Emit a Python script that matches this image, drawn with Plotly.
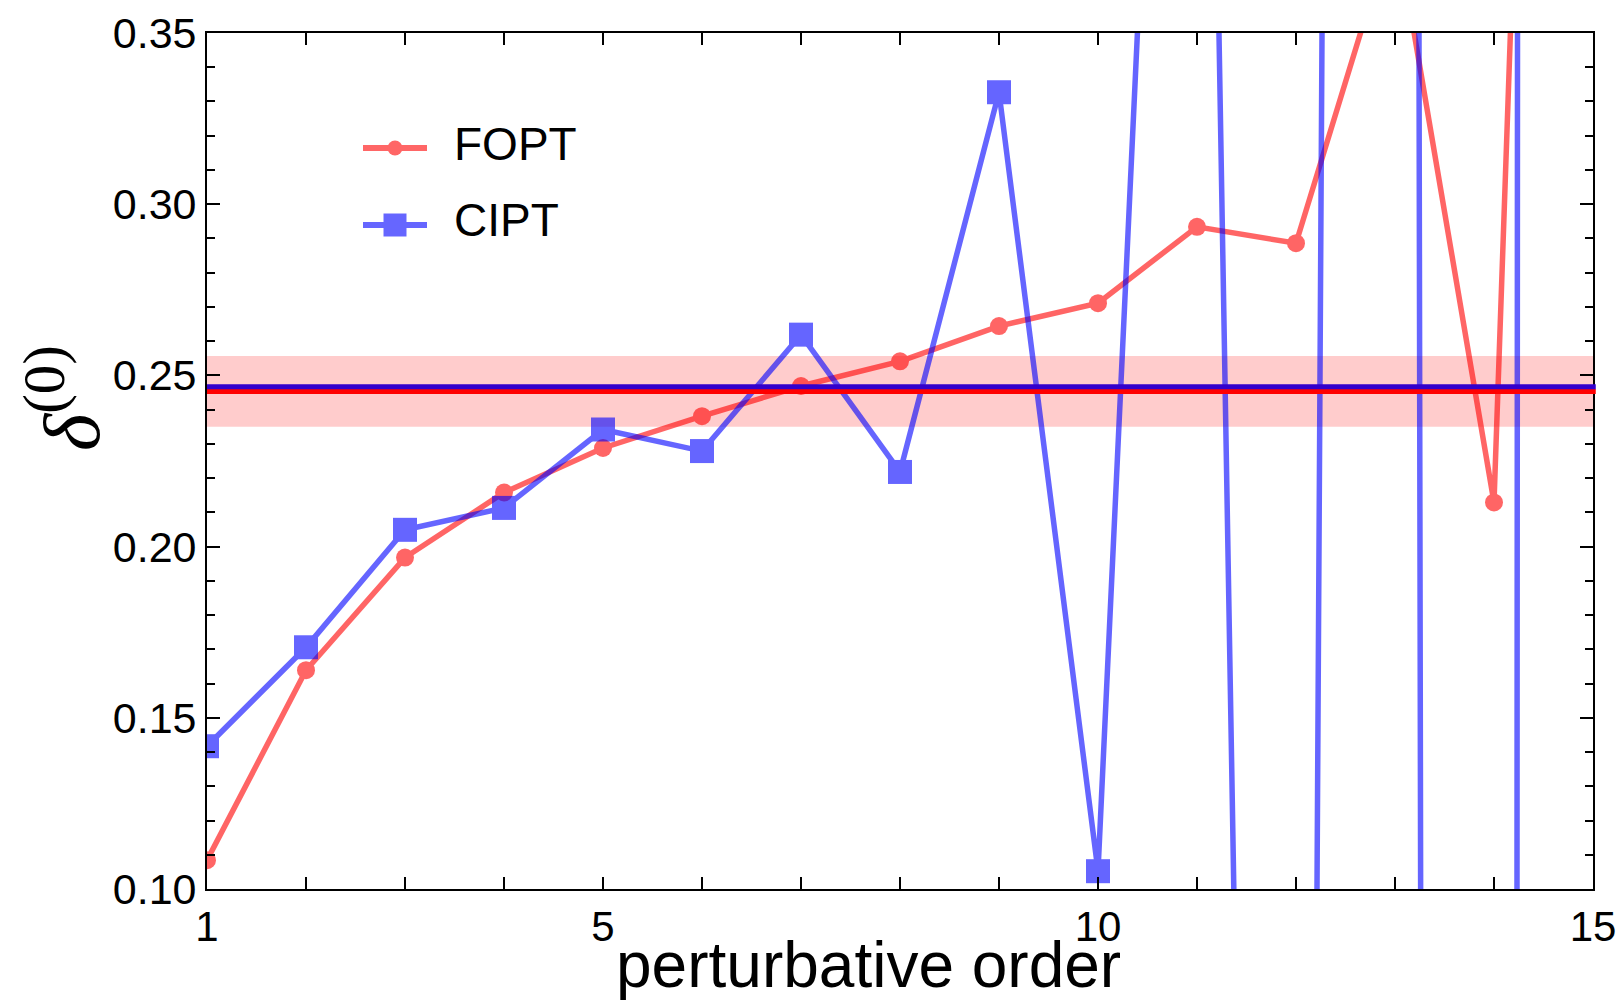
import plotly.graph_objects as go

# ---------------- data ----------------
orders = list(range(1, 16))
fopt = [0.1084, 0.1639, 0.1968, 0.2158, 0.2288, 0.2381, 0.2469, 0.2541,
        0.2644, 0.2711, 0.2934, 0.2886, 0.3828, 0.2129, 1.04]
cipt = [0.1417, 0.1706, 0.2049, 0.2113, 0.2342, 0.2279, 0.2619, 0.2218,
        0.3327, 0.1052, 0.720, -0.947, 3.99, -11.03, 36.9]

ref_fopt = 0.2453
ref_cipt = 0.2467
band_lo = 0.2350
band_hi = 0.2557

x_tickvals = [1, 5, 10, 15]
x_ticktext = ["1", "5", "10", "15"]
y_tickvals = [0.10, 0.15, 0.20, 0.25, 0.30, 0.35]
y_ticktext = ["0.10", "0.15", "0.20", "0.25", "0.30", "0.35"]

series_names = ["FOPT", "CIPT"]

# ---------------- figure ----------------
W, H = 1619, 1005
ML, MR, MT, MB = 207, 26, 33, 116
PW, PH = W - ML - MR, H - MT - MB


def px(xp):
    return (xp - ML) / PW


def py(yp):
    return (H - MB - yp) / PH


RED = "#FF0000"
BLUE = "#0000FF"
RED_L = "#FF6666"
BLUE_L = "#6666FF"

fig = go.Figure()
fig.add_trace(go.Scatter(
    x=orders, y=fopt, mode="lines+markers", name="FOPT",
    line=dict(color=RED, width=5.5),
    marker=dict(symbol="circle", size=18, color=RED),
    opacity=0.6, showlegend=False))
fig.add_trace(go.Scatter(
    x=orders, y=cipt, mode="lines+markers", name="CIPT",
    line=dict(color=BLUE, width=5.5),
    marker=dict(symbol="square", size=24, color=BLUE),
    opacity=0.6, showlegend=False))

shapes = [
    dict(type="rect", xref="paper", yref="y", x0=0, x1=1, y0=band_lo, y1=band_hi,
         fillcolor="rgba(255,0,0,0.2)", line=dict(width=0), layer="below"),
    dict(type="line", xref="paper", yref="y", x0=0, x1=1.002, y0=ref_fopt, y1=ref_fopt,
         line=dict(color="#FF0000", width=5), layer="above"),
    dict(type="line", xref="paper", yref="y", x0=0, x1=1.002, y0=ref_cipt, y1=ref_cipt,
         line=dict(color="#3300CC", width=5), layer="above"),
]

# manual legend (line + marker glyphs)
leg_x0, leg_x1, leg_xm = px(363), px(427), px(395)
leg_rows = [(py(148), RED_L, "circle", 15), (py(225), BLUE_L, "square", 23)]
for yy, col, sym, sz in leg_rows:
    shapes.append(dict(type="line", xref="paper", yref="paper", x0=leg_x0, x1=leg_x1,
                       y0=yy, y1=yy, line=dict(color=col, width=6)))
    shapes.append(dict(type="circle" if sym == "circle" else "rect",
                       xref="paper", yref="paper",
                       xsizemode="pixel", ysizemode="pixel",
                       xanchor=leg_xm, yanchor=yy,
                       x0=-sz / 2, x1=sz / 2, y0=-sz / 2, y1=sz / 2,
                       fillcolor=col, line=dict(width=0)))

annotations = []
for (lab_y, name) in zip([py(144), py(220)], series_names):
    annotations.append(dict(xref="paper", yref="paper", x=px(452), y=lab_y,
                            xanchor="left", yanchor="middle", showarrow=False,
                            text=name, font=dict(family="Liberation Sans", size=46, color="black")))

annotations.append(dict(xref="paper", yref="paper", x=px(868), y=py(1003),
                        xanchor="center", yanchor="bottom", showarrow=False,
                        text="perturbative order",
                        font=dict(family="Liberation Sans", size=64, color="black")))
annotations.append(dict(xref="paper", yref="paper", x=px(64), y=py(398),
                        xanchor="center", yanchor="middle", showarrow=False, textangle=-90,
                        text="<span style='font-size:80px'><i>δ</i></span><sup>(0)</sup>",
                        font=dict(family="Liberation Serif", size=84, color="black")))

fig.update_layout(
    width=W, height=H,
    margin=dict(l=ML, r=MR, t=MT, b=MB, pad=0, autoexpand=False),
    paper_bgcolor="white", plot_bgcolor="white",
    shapes=shapes, annotations=annotations,
    showlegend=False,
    font=dict(family="Liberation Sans", color="black"),
)
fig.update_xaxes(
    range=[1, 15], tickmode="array", tickvals=x_tickvals, ticktext=x_ticktext,
    ticks="inside", ticklen=12.5, tickwidth=1.5, tickcolor="black",
    minor=dict(dtick=1, tick0=1, ticks="inside", ticklen=12.5, tickwidth=1.5, tickcolor="black"),
    showline=True, linecolor="black", linewidth=1.8, mirror="ticks",
    showgrid=False, zeroline=False, automargin=False,
    tickfont=dict(family="Liberation Sans", size=42, color="black"),
)
fig.update_yaxes(
    range=[0.10, 0.35], tickmode="array", tickvals=y_tickvals, ticktext=y_ticktext,
    ticks="inside", ticklen=13, tickwidth=1.5, tickcolor="black",
    minor=dict(dtick=0.01, tick0=0.10, ticks="inside", ticklen=8, tickwidth=1.5, tickcolor="black"),
    showline=True, linecolor="black", linewidth=1.8, mirror="ticks",
    showgrid=False, zeroline=False, automargin=False,
    tickfont=dict(family="Liberation Sans", size=43, color="black"),
)

fig.write_html("out.html")
